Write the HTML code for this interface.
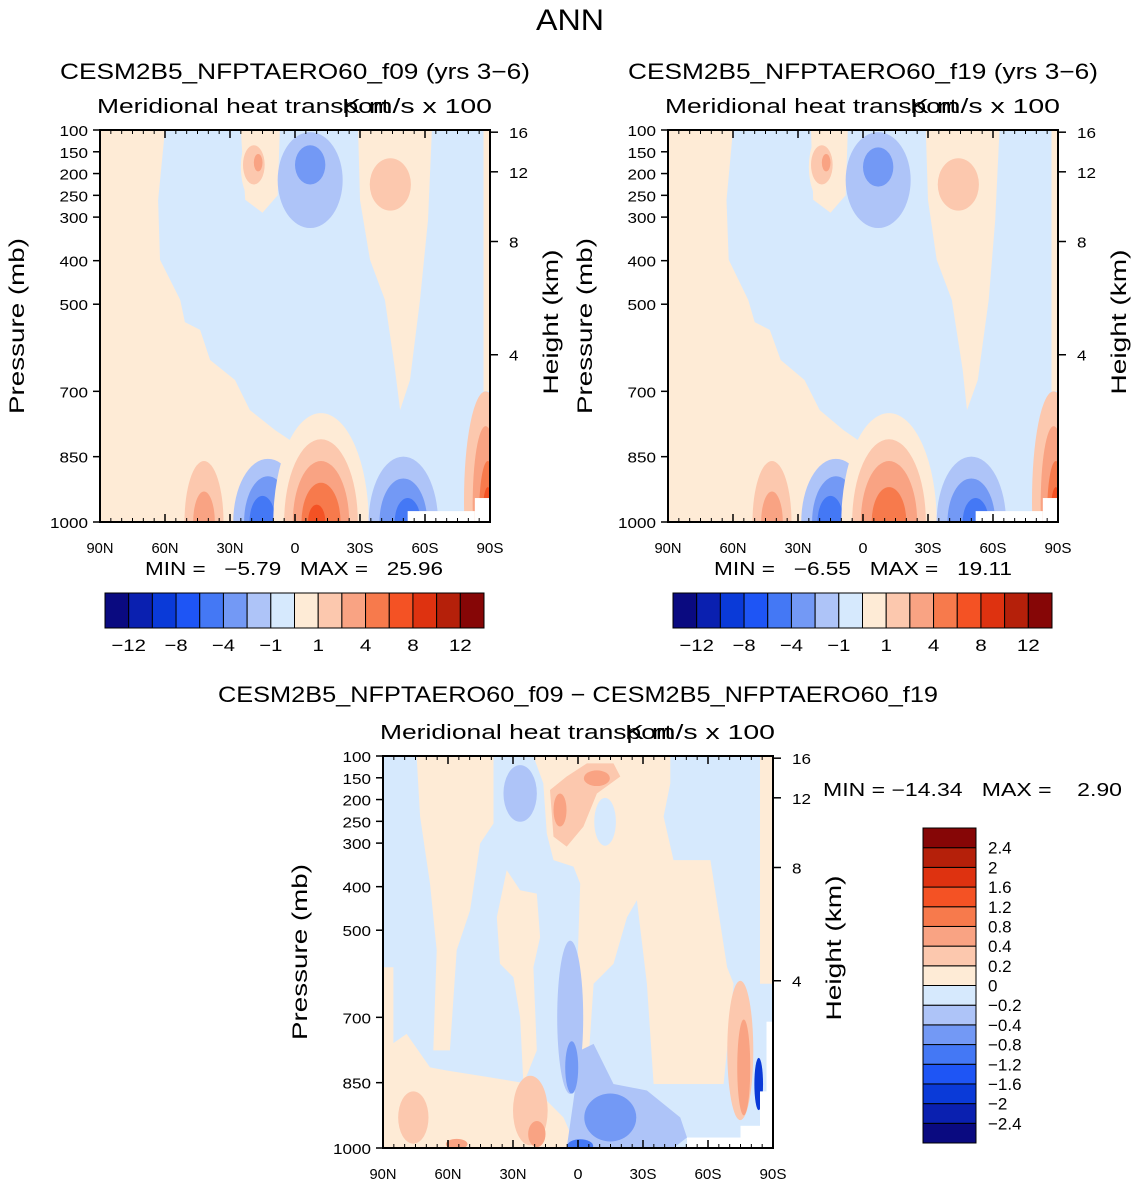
<!DOCTYPE html>
<html><head><meta charset="utf-8"><style>
html,body{margin:0;padding:0;background:#fff}
svg{display:block;font-family:"Liberation Sans",sans-serif}
</style></head><body>
<svg id="root" width="1137" height="1185" viewBox="0 0 1137 1185" xmlns="http://www.w3.org/2000/svg">
<text x="570" y="30" font-size="30" text-anchor="middle" textLength="68" lengthAdjust="spacingAndGlyphs">ANN</text>
</svg>
<script>
// ---------- data ----------
const latTicks = [90,60,30,0,-30,-60,-90];
const latTickLabels = ["90N","60N","30N","0","30S","60S","90S"];
const presTicks = [100,150,200,250,300,400,500,700,850,1000];
const heightTicks = [16,12,8,4];
const heightTickP = [105,196,356,616];
const cbLabels12 = ["-12","-8","-4","-1","1","4","8","12"];
const cbLabelsDiff = ["2.4","2","1.6","1.2","0.8","0.4","0.2","0","-0.2","-0.4","-0.8","-1.2","-1.6","-2","-2.4"];

const p1Regions = [
 {level:8, pts:[[90,100],[60,100],[63.2,261],[62.3,398],[53,490],[50.8,541],[43.8,559],[39.2,628],[27.7,674],[20.8,743],[9.2,789],[2.3,812],[2.3,1000],[90,1000]]},
 {level:8, pts:[[25,100],[7,100],[8,250],[15,290],[23,260]]},
 {level:8, pts:[[-29.1,100],[-63.2,100],[-61.4,307],[-57.7,490],[-53.1,674],[-48.5,743],[-46.2,651],[-41.5,490],[-34.6,398],[-30,261]]},
 {level:8, pts:[[-87,100],[-90,100],[-90,700],[-87,700]]}
];
const p1Blobs = [
 [17,185,8,85,8],[19,180,5,45,9],[17,175,2,20,10],
 [-7,215,15,110,6],[-7,180,7,45,5],
 [-44,225,9.5,60,9],
 [42,1000,9,140,9],[42,1000,5,70,10],
 [12.5,1000,16,145,6],[12.5,1000,11,105,5],[15,1000,6,60,4],
 [-12,1000,22,250,8],[-12,1000,17,190,9],[-12,1000,13,140,10],[-12,1000,9,90,11],[-10,1000,4,40,12],
 [-50,1000,16,150,6],[-50,1000,11,100,5],[-52,1000,6,55,4],
 [-88,950,10,250,9],[-88,960,6,180,10],[-89,980,4,120,11],[-89,990,2.5,70,12],[-89,1000,1.5,40,13]
];
const p1Blank = [[-52,-83,975,1000],[-83,-90,945,1000]];

const p2Regions = [
 {level:8, pts:[[90,100],[60,100],[63,261],[62,398],[53,490],[50,541],[43,559],[38,628],[27,674],[20,743],[9,789],[2.3,812],[2.3,1000],[90,1000]]},
 {level:8, pts:[[24,100],[7,100],[8,250],[15,290],[23,260]]},
 {level:8, pts:[[-29,100],[-63,100],[-61,307],[-58,490],[-53,674],[-48,743],[-46,651],[-41,490],[-34,398],[-30,261]]},
 {level:8, pts:[[-87,100],[-90,100],[-90,700],[-87,700]]}
];
const p2Blobs = [
 [17,185,8,85,8],[19,180,5,45,9],[17,175,2,20,10],
 [-7,215,15,110,6],[-7,185,7,45,5],
 [-44,225,9.5,60,9],
 [42,1000,9,140,9],[42,1000,5,70,10],
 [12.5,1000,16,145,6],[12.5,1000,11,105,5],[15,1000,6,60,4],
 [-12,1000,22,250,8],[-12,1000,17,190,9],[-12,1000,13,140,10],[-12,1000,8,80,11],
 [-50,1000,16,150,6],[-50,1000,11,100,5],[-52,1000,6,55,4],
 [-88,950,10,250,9],[-88,960,6,180,10],[-89,980,4,120,11],[-89,990,2.5,70,12]
];
const p2Blank = [[60,68,975,1000],[-52,-83,975,1000],[-83,-90,945,1000]];

const p3Regions = [
 {level:8, pts:[[20.6,100],[-42.6,100],[-42.6,163],[-39.5,239],[-44.1,339],[-61.1,339],[-68.8,585],[-71.8,623],[-70.3,700],[-67.2,853],[-34.9,853],[-31.8,623],[-27.2,431],[-22.6,470],[-16.4,577],[-7.2,623],[-4.1,853],[2.1,853],[-1,393],[2.1,354],[11.3,339],[14.4,278],[16,163]]},
 {level:8, pts:[[74.5,100],[39,100],[39,255],[45.2,301],[49.8,454],[56,546],[59.1,776],[66.8,776],[65.2,546],[68.3,393],[72.9,239]]},
 {level:8, pts:[[32.9,362],[26.7,408],[19,416],[17.5,516],[20.6,585],[19,776],[25.2,853],[26.7,700],[29.8,608],[36,577],[37.5,470]]},
 {level:8, pts:[[90,776],[79.1,738],[68.3,815],[60.6,822],[40.6,838],[22.1,853],[6.7,930],[0.5,1000],[90,1000]]},
 {level:8, pts:[[90,585],[85.2,585],[85.2,776],[90,776]]},
 {level:8, pts:[[-84,100],[-90,100],[-90,623],[-84,623]]},
 {level:6, pts:[[-1,776],[-7.2,761],[-16.4,853],[-31.8,868],[-47.2,930],[-50.3,976],[-44.1,1000],[5.2,1000],[2.1,891]]},
 {level:9, pts:[[12.9,178],[5.2,147],[-4.1,117],[-16.4,117],[-19.5,147],[-8.7,186],[-2.5,262],[5.2,308],[11.3,285]]}
];
const p3Blobs = [
 [26.7,186,7.7,65,6],
 [3.6,700,6,176,6],
 [-14.9,930,12,55,5],[2.9,815,3,60,5],[-1,995,6,15,4],
 [8.3,224,3,38,10],[-8.7,151,6,18,10],
 [-12.5,251,5,55,7],
 [-74.9,776,6,160,9],[-76.5,815,3,110,10],[-83.4,853,2,60,2],
 [76,930,7,60,9],[22,914,8,80,9],[19,968,4,30,10],[56,991,5,12,10]
];
const p3Blank = [[-50.3,-90,976,1000],[-87,-90,710,1000],[-84,-90,870,1000],[-75,-90,949,1000]];

// ---------- styles ----------
const levelColors = ["#0a0a80","#0a20b0","#0a3ad8","#1e55f5","#4478f5","#7399f5","#aec4f8","#d6e9fd","#feebd6","#fcc8ae","#f9a383","#f77a4c","#f45224","#de3210","#b5200a","#860606"];
const NS = "http://www.w3.org/2000/svg";
const root = document.getElementById('root');
function mk(tag, attrs, parent){const e=document.createElementNS(NS,tag);for(const k in attrs)e.setAttribute(k,attrs[k]);(parent||root).appendChild(e);return e;}
function txt(x,y,s,size,anchor,parent,extra,len){const a=Object.assign({x:x,y:y,'font-size':size,'text-anchor':anchor||'start'},extra||{});if(len){a.textLength=len;a.lengthAdjust='spacingAndGlyphs';}const t=mk('text',a,parent);t.textContent=s;return t;}

let clipId=0;
function drawPanel(ox,oy,regions,blobs,blank,name){
 const W=390,H=392;
 const xs=lat=>ox+(90-lat)/180*W;
 const ys=p=>oy+(p-100)/900*H;
 const g=mk('g',{});
 
 
 const cid='clip'+(clipId++);
 const cp=mk('clipPath',{id:cid},g); mk('rect',{x:ox,y:oy,width:W,height:H},cp);
 const f=mk('g',{'clip-path':'url(#'+cid+')'},g);
 const bg=mk('rect',{x:ox,y:oy,width:W,height:H,fill:levelColors[7]},f);
 
 
 regions.forEach(r=>{
  const pg=mk('polygon',{points:r.pts.map(q=>xs(q[0]).toFixed(1)+','+ys(q[1]).toFixed(1)).join(' '),fill:levelColors[r.level]},f);
  
  
 });
 blobs.forEach(b=>{
  const el=mk('ellipse',{cx:xs(b[0]),cy:ys(b[1]),rx:b[2]/180*W,ry:b[3]/900*H,fill:levelColors[b[4]]},f);
  
  
 });
 blank.forEach(b=>{
  const r=mk('rect',{x:xs(b[0]),y:ys(b[2]),width:xs(b[1])-xs(b[0]),height:ys(b[3])-ys(b[2]),fill:'#fff'},f);
  
  
 });
 const fr=mk('rect',{x:ox,y:oy,width:W,height:H,fill:'none',stroke:'#000','stroke-width':2},g);
 
 
 latTicks.forEach((l,i)=>{
  const x=xs(l);
  mk('line',{x1:x,y1:oy+H,x2:x,y2:oy+H-8,stroke:'#000','stroke-width':1.5},g);
  mk('line',{x1:x,y1:oy,x2:x,y2:oy+8,stroke:'#000','stroke-width':1.5},g);
  const t=txt(x,oy+H+31,latTickLabels[i],15,'middle',g,null,latTickLabels[i].length*9);
  
  
 });
 for(let l=85;l>-90;l-=5){ if(l%30===0) continue; const x=xs(l);
  mk('line',{x1:x,y1:oy+H,x2:x,y2:oy+H-4,stroke:'#000'},g);
  mk('line',{x1:x,y1:oy,x2:x,y2:oy+4,stroke:'#000'},g);}
 presTicks.forEach(p=>{
  const y=ys(p);
  mk('line',{x1:ox,y1:y,x2:ox-7,y2:y,stroke:'#000','stroke-width':1.5},g);
  const s=String(p);
  const t=txt(ox-12,y+6,s,15,'end',g,null,s.length*9.5);
  
  
 });
 heightTicks.forEach((h,i)=>{
  const y=ys(heightTickP[i]);
  mk('line',{x1:ox+W,y1:y,x2:ox+W+8,y2:y,stroke:'#000','stroke-width':1.5},g);
  const s=String(h);
  const t=txt(ox+W+19,y+6,s,15,'start',g,null,s.length*9.5);
  
  
 });
 const yl=txt(0,0,'Pressure (mb)',21,'middle',g,{transform:'translate('+(ox-76)+','+(oy+H/2)+') rotate(-90)'},176);
 
 
 const hl=txt(0,0,'Height (km)',21,'middle',g,{transform:'translate('+(ox+W+68)+','+(oy+H/2-4)+') rotate(-90)'},145);
 
 
 const s1=txt(ox-3,oy-17,'Meridional heat transport',20,'start',g,null,292);
 
 
 const s2=txt(ox+W+2,oy-17,'K m/s x 100',20,'end',g,null,150);
 
 
}

function hColorbar(x0,y0,w,h){
 const g=mk('g',{});
 
 
 const bw=w/16;
 levelColors.forEach((c,i)=>{
  const r=mk('rect',{x:x0+i*bw,y:y0,width:bw,height:h,fill:c,stroke:'#000','stroke-width':1},g);
  
  
 });
 cbLabels12.forEach((s,i)=>{
  const t=txt(x0+(2*i+1)*bw,y0+h+23,s.replace('-','\u2212'),17,'middle',g,null,s.length*11.5);
  
  
 });
}
function vColorbar(x0,y0,w,h){
 const g=mk('g',{});
 
 
 const bh=h/16;
 levelColors.forEach((c,i)=>{
  const r=mk('rect',{x:x0,y:y0+(15-i)*bh,width:w,height:bh,fill:c,stroke:'#000','stroke-width':1},g);
  
  
 });
 cbLabelsDiff.forEach((s,i)=>{
  const t=txt(x0+w+12,y0+(i+1)*bh+6,s.replace('-','\u2212'),17,'start',g);
  
  
 });
}

drawPanel(100,130,p1Regions,p1Blobs,p1Blank,'panel-f09');
drawPanel(668,130,p2Regions,p2Blobs,p2Blank,'panel-f19');
drawPanel(383,756,p3Regions,p3Blobs,p3Blank,'panel-difference');
hColorbar(105,593,379,35);
hColorbar(673,593,379,35);
vColorbar(923,828,53,315);

let t;
t=txt(295,79,'CESM2B5_NFPTAERO60_f09 (yrs 3\u22126)',22,'middle',null,null,470);  
t=txt(863,79,'CESM2B5_NFPTAERO60_f19 (yrs 3\u22126)',22,'middle',null,null,470);  
t=txt(578,702,'CESM2B5_NFPTAERO60_f09 \u2212 CESM2B5_NFPTAERO60_f19',22,'middle',null,null,720);  
t=txt(145,575,'MIN =   \u22125.79   MAX =   25.96',18,'start',null,{style:'white-space:pre'},298);  
t=txt(714,575,'MIN =   \u22126.55   MAX =   19.11',18,'start',null,{style:'white-space:pre'},298);  
t=txt(823,796,'MIN = \u221214.34   MAX =    2.90',18,'start',null,{style:'white-space:pre'},299);  
</script>
</body></html>
